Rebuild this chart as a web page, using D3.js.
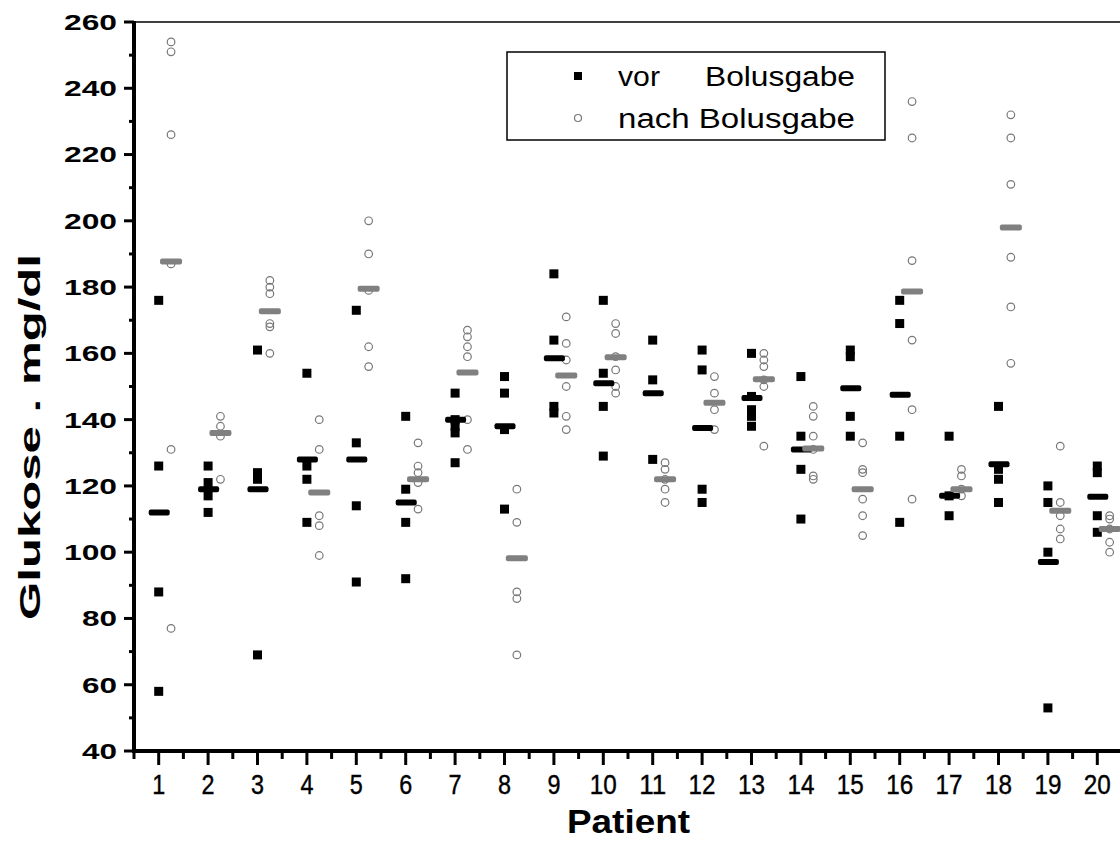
<!DOCTYPE html>
<html><head><meta charset="utf-8">
<script src="https://cdn.jsdelivr.net/npm/d3@7"></script>
<style>
html,body{margin:0;padding:0;background:#fff;}
svg{display:block;}
</style></head>
<body>
<svg id="chart" width="1120" height="861"></svg>
<script>
const patients = d3.range(1, 21);
const yTicks = [40,60,80,100,120,140,160,180,200,220,240,260];
const seriesNames = ["vor", "Bolusgabe", "nach Bolusgabe"];

const vorValues = [
  [176,126,88,58],[126,121,117,112],[161,124,122,69],[154,126,122,109],[173,133,114,91],
  [141,119,109,92],[148,140,138,136,127],[153,148,137,113],[184,164,144,142],[176,154,144,129],
  [164,152,128],[161,155,119,115],[160,147,143,141,138],[153,135,125,110],[161,159,141,135],
  [176,169,135,109],[135,117,111],[144,125,122,115],[120,115,100,53],[126,124,111,106]
];
const nachValues = [
  [254,251,226,187,131,77],[141,138,135,122],[182,180,178,169,168,160],[140,131,111,108,99],[200,190,179,162,156],
  [133,126,124,121,113],[167,165,162,159,140,131],[119,109,88,86,69],[171,163,158,150,141,137],[169,166,159,155,150,148],
  [127,125,122,119,115],[153,148,143,137],[160,158,156,152,150,132],[144,141,135,131,123,122],[133,125,124,116,111,105],
  [236,225,188,164,143,116],[125,123,119,117],[232,225,211,189,174,157],[132,115,111,107,104],[111,110,107,103,100]
];
const vorMean = [112,119,119,128,128,115,140,138,158.5,151,148,137.5,146.5,131,149.5,147.5,117,126.5,97,116.7];
const nachMean = [187.7,136,172.7,118,179.5,122,154.2,98.2,153.3,158.8,122,145.1,152.2,131.3,119,178.7,119,198,112.5,107];

const svg = d3.select("#chart");
const x = d3.scaleLinear().domain([0.5, 20.5]).range([134, 1122]);
const y = d3.scaleLinear().domain([40, 260]).range([751, 22]);
const nachOffset = 0.25;
const font = "'Liberation Sans', Arial, sans-serif";

// top frame line
svg.append("line").attr("x1", x(0.5)).attr("x2", 1120).attr("y1", y(260)).attr("y2", y(260))
  .attr("stroke", "#000").attr("stroke-width", 1.5);

// Y axis
const yMinor = d3.range(40, 261, 10);
const yAxisG = svg.append("g").attr("transform", `translate(${x(0.5)},0)`);
yAxisG.selectAll("line.minor").data(yMinor).join("line")
  .attr("x1", d => d % 20 === 0 ? -10 : -5).attr("x2", 0)
  .attr("y1", d => y(d)).attr("y2", d => y(d))
  .attr("stroke", "#000").attr("stroke-width", 3);
yAxisG.selectAll("text").data(yTicks).join("text")
  .attr("x", -17).attr("y", d => y(d)).attr("dy", "0.36em")
  .attr("text-anchor", "end").attr("font-family", font).attr("font-weight", "bold")
  .attr("font-size", 22).attr("textLength", d => String(d).length === 3 ? 53 : 35)
  .attr("lengthAdjust", "spacingAndGlyphs").text(d => d);
yAxisG.append("line").attr("x1", 0).attr("x2", 0).attr("y1", y(260) - 1).attr("y2", y(40) + 2)
  .attr("stroke", "#000").attr("stroke-width", 4);

// X axis
const xMinor = d3.range(0.5, 20.6, 0.5);
const xAxisG = svg.append("g").attr("transform", `translate(0,${y(40)})`);
xAxisG.selectAll("line.tick").data(xMinor).join("line")
  .attr("x1", d => x(d)).attr("x2", d => x(d))
  .attr("y1", 0).attr("y2", d => Number.isInteger(d) ? 14 : 8)
  .attr("stroke", "#000").attr("stroke-width", 3);
xAxisG.selectAll("text").data(patients).join("text")
  .attr("x", d => x(d)).attr("y", 43)
  .attr("text-anchor", "middle").attr("font-family", font)
  .attr("font-size", 27).attr("textLength", d => d < 10 ? 13 : 27)
  .attr("lengthAdjust", "spacingAndGlyphs")
  .attr("stroke", "#000").attr("stroke-width", 0.4).text(d => d);
xAxisG.append("line").attr("x1", x(0.5) - 2).attr("x2", 1120).attr("y1", 0).attr("y2", 0)
  .attr("stroke", "#000").attr("stroke-width", 4);

// axis titles
svg.append("text").attr("x", 567).attr("y", 833)
  .attr("font-family", font).attr("font-weight", "bold").attr("font-size", 33)
  .attr("textLength", 123).attr("lengthAdjust", "spacingAndGlyphs").text("Patient");
svg.append("text").attr("transform", `translate(40,620) rotate(-90)`)
  .attr("font-family", font).attr("font-weight", "bold").attr("font-size", 30)
  .attr("textLength", 366).attr("lengthAdjust", "spacingAndGlyphs")
  .text("Glukose . mg/dl");

// data points
const vorPts = vorValues.flatMap((arr, i) => arr.map(v => ({p: patients[i], v})));
const nachPts = nachValues.flatMap((arr, i) => arr.map(v => ({p: patients[i], v})));
const sq = 9;

svg.append("g").selectAll("rect").data(vorPts).join("rect")
  .attr("x", d => x(d.p) - sq / 2).attr("y", d => y(d.v) - sq / 2)
  .attr("width", sq).attr("height", sq).attr("fill", "#000");

svg.append("g").selectAll("circle").data(nachPts).join("circle")
  .attr("cx", d => x(d.p + nachOffset)).attr("cy", d => y(d.v)).attr("r", 3.8)
  .attr("fill", "none").attr("stroke", "#777").attr("stroke-width", 1.2);

// mean bars
svg.append("g").selectAll("rect").data(vorMean).join("rect")
  .attr("x", (d, i) => x(patients[i]) - 10).attr("y", d => y(d) - 3)
  .attr("width", 21).attr("height", 6).attr("rx", 2).attr("fill", "#000");
svg.append("g").selectAll("rect").data(nachMean).join("rect")
  .attr("x", (d, i) => x(patients[i] + nachOffset) - 11).attr("y", d => y(d) - 3)
  .attr("width", 22).attr("height", 6).attr("rx", 2).attr("fill", "#808080");

// legend
const lg = svg.append("g");
lg.append("rect").attr("x", 507).attr("y", 52).attr("width", 378).attr("height", 88)
  .attr("fill", "#fff").attr("stroke", "#000").attr("stroke-width", 1.5);
lg.append("rect").attr("x", 574).attr("y", 72).attr("width", 8).attr("height", 8).attr("fill", "#000");
lg.append("circle").attr("cx", 578).attr("cy", 118).attr("r", 3.5)
  .attr("fill", "none").attr("stroke", "#777").attr("stroke-width", 1.2);
const legendPos = [
  {x: 618, y: 86, len: 42},
  {x: 705, y: 86, len: 150},
  {x: 618, y: 128, len: 237}
];
lg.selectAll("text").data(seriesNames).join("text")
  .attr("x", (d, i) => legendPos[i].x).attr("y", (d, i) => legendPos[i].y)
  .attr("font-family", font).attr("font-size", 27)
  .attr("textLength", (d, i) => legendPos[i].len).attr("lengthAdjust", "spacingAndGlyphs")
  .text(d => d);
</script>
</body></html>
